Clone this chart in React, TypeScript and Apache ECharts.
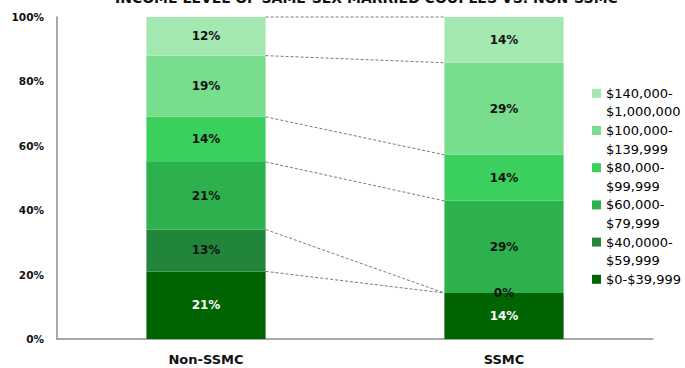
import React, { useEffect, useRef } from "react";
import * as echarts from "echarts";

const categories = ["Non-SSMC", "SSMC"];
const seriesNames = [
  "$0-$39,999",
  "$40,0000-$59,999",
  "$60,000-$79,999",
  "$80,000-$99,999",
  "$100,000-$139,999",
  "$140,000-$1,000,000",
];
const legendLines: string[][] = [
  ["$0-$39,999", " "],
  ["$40,0000-", "$59,999"],
  ["$60,000-", "$79,999"],
  ["$80,000-", "$99,999"],
  ["$100,000-", "$139,999"],
  ["$140,000-", "$1,000,000"],
];
const nonSsmc = [21, 13, 21, 14, 19, 12];
const ssmc = [14.3, 0, 28.6, 14.3, 28.6, 14.2];
const colors = ["#006400", "#22863a", "#2db14e", "#3bcf5e", "#79dd8e", "#a4e8b1"];
const yTicks = [0, 20, 40, 60, 80, 100];
const title = "INCOME LEVEL OF SAME-SEX MARRIED COUPLES VS. NON-SSMC";

export default function App() {
  const ref = useRef<HTMLDivElement>(null);
  useEffect(() => {
    if (!ref.current) return;
    const chart = echarts.init(ref.current, null, { renderer: "svg" });

    const connectors: number[][] = [];
    let a = 0;
    let b = 0;
    for (let i = 0; i < nonSsmc.length; i++) {
      a += nonSsmc[i];
      b += ssmc[i];
      connectors.push([a, b, 0]);
    }

    const font = "'DejaVu Sans', sans-serif";
    const barSeries = seriesNames.map((name, i) => ({
      name,
      type: "bar",
      stack: "total",
      barWidth: "40%",
      data: [nonSsmc[i], ssmc[i]],
      itemStyle: { color: colors[i] },
      label: {
        show: true,
        position: "inside",
        formatter: (p: any) => Math.round(p.value) + "%",
        color: i === 0 ? "#ffffff" : "#111111",
        fontFamily: font,
        fontWeight: "bold",
        fontSize: 12,
      },
    }));

    chart.setOption({
      animation: false,
      title: {
        text: title,
        left: 115,
        top: -9,
        padding: 0,
        textStyle: { fontFamily: font, fontWeight: "bold", fontSize: 14, color: "#111" },
      },
      grid: { left: 57, right: 32, top: 17, bottom: 29, containLabel: false },
      legend: {
        orient: "vertical",
        left: 592,
        top: 84,
        padding: 0,
        itemGap: 0,
        itemWidth: 9,
        itemHeight: 37,
        icon: "path://M0,4.7h9v9h-9z M0,0L0,0 M0,37L0,37",
        data: seriesNames.slice().reverse(),
        formatter: (name: string) => legendLines[seriesNames.indexOf(name)].join("\n"),
        textStyle: { fontFamily: font, fontSize: 13, lineHeight: 18.6, color: "#000" },
        selectedMode: false,
      },
      xAxis: {
        type: "category",
        data: categories,
        axisLine: { lineStyle: { color: "#8c8c8c", width: 1.5 } },
        axisTick: { show: false },
        axisLabel: { margin: 14, fontFamily: font, fontWeight: "bold", fontSize: 13, color: "#111" },
      },
      yAxis: {
        type: "value",
        min: yTicks[0],
        max: yTicks[yTicks.length - 1],
        interval: 20,
        axisLine: { show: true, lineStyle: { color: "#8c8c8c", width: 1.5 } },
        axisTick: { show: false },
        splitLine: { show: false },
        axisLabel: { margin: 13, formatter: "{value}%", fontFamily: font, fontWeight: "bold", fontSize: 10.5, color: "#111" },
      },
      series: [
        ...barSeries,
        {
          type: "custom",
          name: "connectors",
          data: connectors,
          encode: { x: 2, y: [0, 1] },
          silent: true,
          z: 5,
          renderItem: (_params: any, api: any) => {
            const p0 = api.coord([0, api.value(0)]);
            const p1 = api.coord([1, api.value(1)]);
            const band = api.size([1, 0])[0];
            const half = band * 0.2;
            return {
              type: "line",
              shape: { x1: p0[0] + half, y1: p0[1], x2: p1[0] - half, y2: p1[1] },
              style: { stroke: "#7a7a7a", lineWidth: 1, lineDash: [3, 2] },
            };
          },
        },
      ],
    });
    return () => chart.dispose();
  }, []);
  return (
    <div
      ref={ref}
      style={{ position: "fixed", left: 0, top: 0, width: 685, height: 368, background: "#fff" }}
    />
  );
}
